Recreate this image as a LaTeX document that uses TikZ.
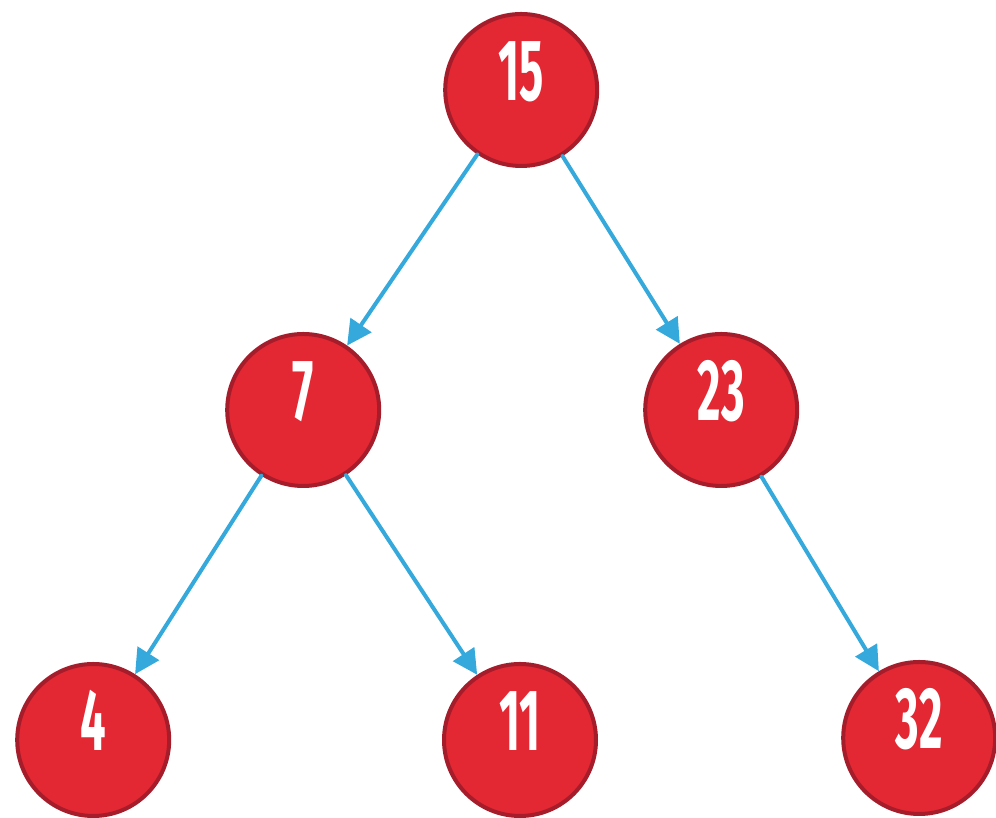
\documentclass[tikz,border=0pt]{standalone}
\usepackage{fontspec}
\usepackage{tikz}
\usetikzlibrary{arrows.meta}
\newfontfamily\keyfont{Fira Sans}[FakeStretch=0.52]
\definecolor{keyred}{HTML}{E32733}
\definecolor{keyrim}{HTML}{A51C2A}
\definecolor{linkblue}{HTML}{36A9DC}

\begin{document}
\begin{tikzpicture}[line cap=round,line join=round,x=1.0cm,y=1.0cm,
    key/.style={circle,draw=keyrim,fill=keyred,line width=0.1cm,minimum size=3.8cm,
        inner sep=0pt,text=white,font=\keyfont\bfseries\fontsize{62}{64}\selectfont,
        text height=1.5cm,text depth=0.95cm},
    link/.style={draw=linkblue,line width=0.1cm,-{Triangle[length=0.62cm,width=0.62cm]}}]
        \useasboundingbox (0,0) rectangle (24.9,20.45);
        \node[key] (k15) at (13.03,18.2) {15};
        \node[key] (k7) at (7.58,10.2) {7};
        \node[key] (k23) at (18.03,10.2) {23};
        \node[key] (k4) at (2.33,1.95) {4};
        \node[key] (k11) at (13.0,1.95) {11};
        \node[key] (k32) at (22.98,2.0) {32};
        \draw [link] (k15) -- (k7);
        \draw [link] (k15) -- (k23);
        \draw [link] (k7) -- (k4);
        \draw [link] (k7) -- (k11);
        \draw [link] (k23) -- (k32);
    \end{tikzpicture}
\end{document}
